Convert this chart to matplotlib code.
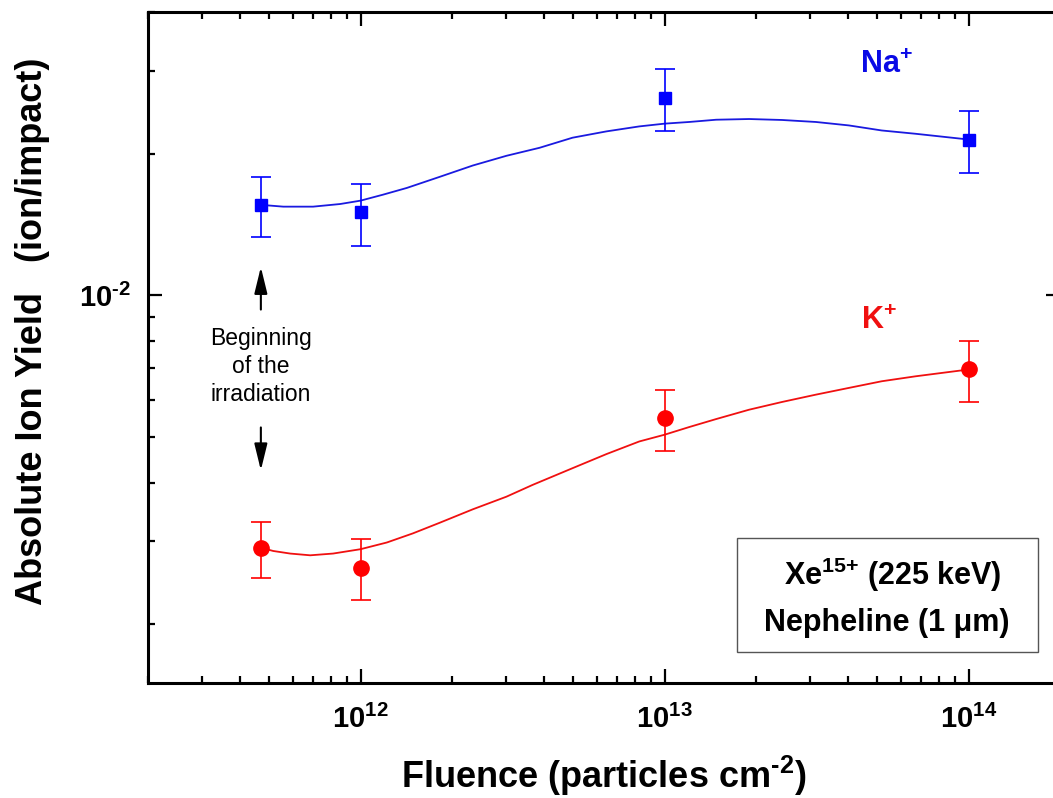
import numpy as np
import matplotlib
matplotlib.use('Agg')
import matplotlib.pyplot as plt
from matplotlib.ticker import LogLocator, NullFormatter, FuncFormatter
from matplotlib.patches import Rectangle

plt.rcParams['font.family'] = ['Liberation Sans', 'DejaVu Sans']
plt.rcParams['mathtext.fontset'] = 'custom'
plt.rcParams['mathtext.rm'] = 'Liberation Sans'
plt.rcParams['mathtext.bf'] = 'Liberation Sans:bold'
plt.rcParams['mathtext.default'] = 'bf'

# measured points (fluence in particles/cm2, yield in ion/impact)
fluence = [4.7e11, 1e12, 1e13, 1e14]
na_yield = [1.557e-2, 1.501e-2, 2.627e-2, 2.141e-2]
na_low = [1.331e-2, 1.274e-2, 2.230e-2, 1.820e-2]
na_high = [1.787e-2, 1.724e-2, 3.022e-2, 2.459e-2]
k_yield = [2.911e-3, 2.639e-3, 5.484e-3, 6.98e-3]
k_low = [2.513e-3, 2.248e-3, 4.671e-3, 5.92e-3]
k_high = [3.298e-3, 3.028e-3, 6.302e-3, 7.99e-3]

# guide curves
na_fit_x = [4.68e11, 5.57e11, 6.98e11, 8.57e11, 1.0e12, 1.185e12, 1.42e12, 1.82e12,
            2.34e12, 3.02e12, 3.88e12, 4.98e12, 6.44e12, 8.26e12, 1.0e13, 1.205e13,
            1.479e13, 1.897e13, 2.434e13, 3.147e13, 4.04e13, 5.18e13, 6.70e13, 1.0e14]
na_fit_y = [1.557e-2, 1.543e-2, 1.543e-2, 1.563e-2, 1.589e-2, 1.636e-2, 1.691e-2, 1.785e-2,
            1.887e-2, 1.979e-2, 2.058e-2, 2.162e-2, 2.230e-2, 2.285e-2, 2.316e-2, 2.335e-2,
            2.361e-2, 2.369e-2, 2.358e-2, 2.335e-2, 2.296e-2, 2.240e-2, 2.204e-2, 2.143e-2]
k_fit_x = [4.68e11, 5.16e11, 5.87e11, 6.83e11, 8.12e11, 1.0e12, 1.22e12, 1.486e12,
           1.82e12, 2.34e12, 3.02e12, 3.68e12, 4.98e12, 6.44e12, 8.26e12, 1.0e13,
           1.205e13, 1.479e13, 1.897e13, 2.434e13, 3.147e13, 4.04e13, 5.18e13, 6.70e13, 1.0e14]
k_fit_y = [2.911e-3, 2.862e-3, 2.826e-3, 2.802e-3, 2.826e-3, 2.887e-3, 2.983e-3, 3.119e-3,
           3.285e-3, 3.509e-3, 3.733e-3, 3.954e-3, 4.291e-3, 4.598e-3, 4.891e-3, 5.055e-3,
           5.248e-3, 5.458e-3, 5.713e-3, 5.933e-3, 6.150e-3, 6.356e-3, 6.566e-3, 6.728e-3, 6.955e-3]

HY = '\u2010'  # short hyphen as in the original superscripts


def pow10(v, pos):
    e = int(round(np.log10(v)))
    s = str(e).replace('-', HY)
    return r'$\mathbf{10^{%s}}$' % s


fig = plt.figure(figsize=(10.53, 7.98), dpi=100)
ax = fig.add_axes([0.1406, 0.1441, 0.8661, 0.8409])

na_err = [np.array(na_yield) - np.array(na_low), np.array(na_high) - np.array(na_yield)]
k_err = [np.array(k_yield) - np.array(k_low), np.array(k_high) - np.array(k_yield)]

ax.plot(na_fit_x, na_fit_y, color='#1a1ae0', lw=1.3)
ax.plot(k_fit_x, k_fit_y, color='#f01010', lw=1.3)
ax.errorbar(fluence, na_yield, yerr=na_err, fmt='s', color='#0000ff', ms=9,
            capsize=7, elinewidth=1.2, capthick=1.2)
ax.errorbar(fluence, k_yield, yerr=k_err, fmt='o', color='#ff0000', ms=11,
            capsize=7, elinewidth=1.2, capthick=1.2)

ax.set_xscale('log')
ax.set_yscale('log')
ax.set_xlim(2e11, 2e14)
ax.set_ylim(1.5e-3, 4e-2)

for s in ax.spines.values():
    s.set_linewidth(2.2)
ax.xaxis.set_major_locator(LogLocator(base=10))
ax.xaxis.set_minor_locator(LogLocator(base=10, subs=np.arange(2, 10)))
ax.yaxis.set_minor_locator(LogLocator(base=10, subs=np.arange(2, 10)))
ax.xaxis.set_major_formatter(FuncFormatter(pow10))
ax.yaxis.set_major_formatter(FuncFormatter(pow10))
ax.xaxis.set_minor_formatter(NullFormatter())
ax.yaxis.set_minor_formatter(NullFormatter())
ax.tick_params(which='both', direction='in', top=True, right=True, width=1.6)
ax.tick_params(which='major', length=10, labelsize=21)
ax.tick_params(axis='x', which='major', pad=16)
ax.tick_params(axis='y', which='major', pad=12)
ax.tick_params(which='minor', length=5)

ax.set_xlabel('Fluence (particles cm$^{%s2}$)' % HY, fontsize=26, fontweight='bold',
              labelpad=14)
ax.set_ylabel('Absolute Ion Yield   (ion/impact)', fontsize=26, fontweight='bold')
ax.yaxis.set_label_coords(-0.107, 0.5246)

ax.text(5.38e13, 3.08e-2, 'Na$^{+}$', color='#0a0ae6', fontsize=22, fontweight='bold',
        ha='center', va='center')
ax.text(5.07e13, 8.8e-3, 'K$^{+}$', color='#f01010', fontsize=22, fontweight='bold',
        ha='center', va='center')

ax.text(4.7e11, 7.06e-3, 'Beginning\nof the\nirradiation', fontsize=16.5, ha='center',
        va='center', linespacing=1.3)
ax.annotate('', xy=(4.7e11, 1.164e-2), xytext=(4.7e11, 9.2e-3),
            arrowprops=dict(arrowstyle='-|>,head_length=0.9,head_width=0.22',
                            color='#808080', lw=1.5, mutation_scale=18,
                            fc='black', ec='black'))
ax.annotate('', xy=(4.7e11, 4.19e-3), xytext=(4.7e11, 5.31e-3),
            arrowprops=dict(arrowstyle='-|>,head_length=0.9,head_width=0.22',
                            color='#808080', lw=1.5, mutation_scale=18,
                            fc='black', ec='black'))

fig.patches.append(Rectangle((0.700, 0.183), 0.2858, 0.1429, transform=fig.transFigure,
                             fill=False, ec='#555555', lw=1.0))
fig.text(0.848, 0.2794, 'Xe$^{15{+}}$ (225 keV)', fontsize=22, fontweight='bold',
         ha='center', va='center')
fig.text(0.8424, 0.2193, 'Nepheline (1 \u03bcm)', fontsize=22, fontweight='bold',
         ha='center', va='center')

fig.savefig('out.png', dpi=100)
